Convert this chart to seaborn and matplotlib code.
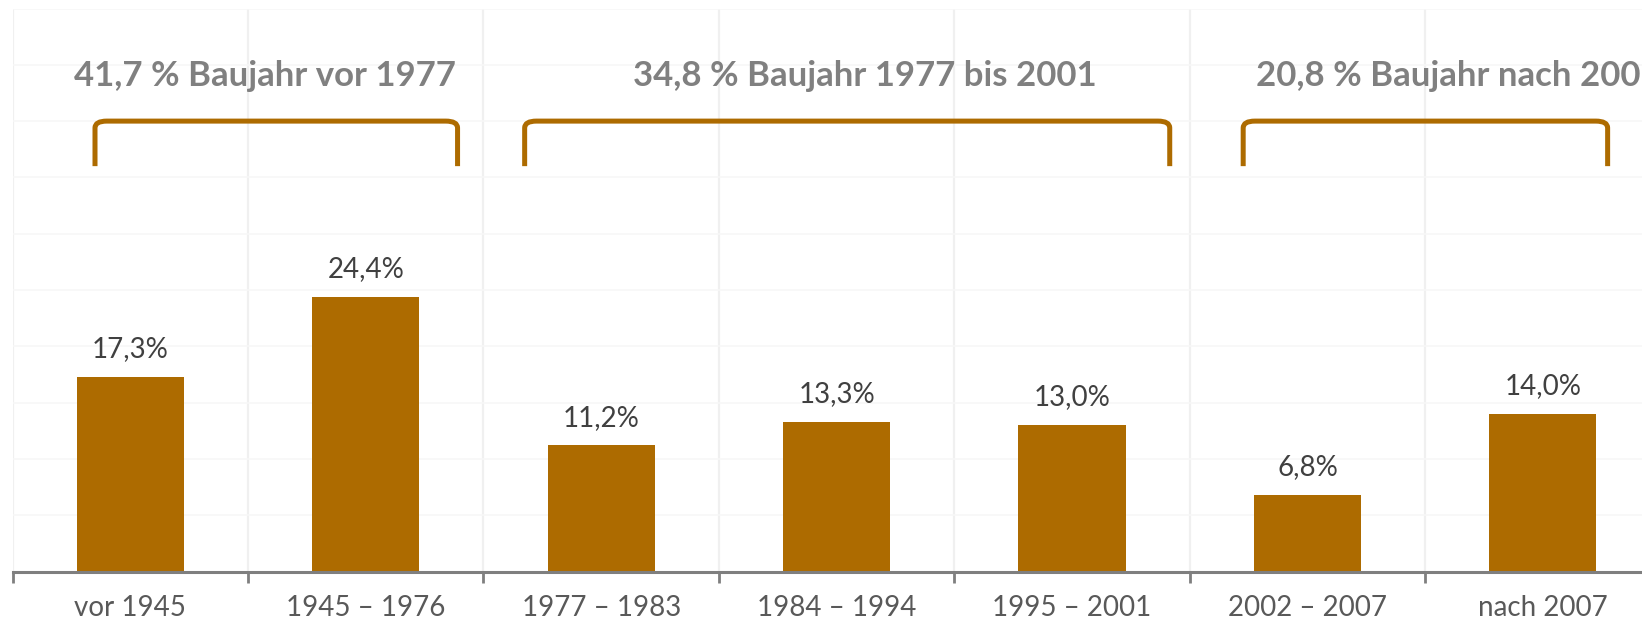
import matplotlib
matplotlib.use("Agg")
import matplotlib.pyplot as plt
from matplotlib.path import Path
from matplotlib.patches import PathPatch
import seaborn as sns
import pandas as pd
import numpy as np

categories = ["vor 1945", "1945 – 1976", "1977 – 1983", "1984 – 1994",
              "1995 – 2001", "2002 – 2007", "nach 2007"]
values = [17.3, 24.4, 11.2, 13.3, 13.0, 6.8, 14.0]
value_labels = ["17,3%", "24,4%", "11,2%", "13,3%", "13,0%", "6,8%", "14,0%"]

group_labels = ["41,7 % Baujahr vor 1977", "34,8 % Baujahr 1977 bis 2001",
                "20,8 % Baujahr nach 2001"]
group_spans = [(-0.15, 1.39), (1.675, 4.415), (4.727, 6.275)]
group_text_x = [0.57, 3.12, 4.78]
group_text_ha = ["center", "center", "left"]

BAR = "#AD6B00"
sns.set_theme(style="white")
plt.rcParams["font.family"] = ["Lato", "DejaVu Sans"]

fig = plt.figure(figsize=(16.42, 6.28), dpi=100)
ax = fig.add_axes([12.6 / 1642, 56.5 / 628, 1648 / 1642, 563 / 628])

df = pd.DataFrame({"cat": categories, "val": values})
sns.barplot(data=df, x="cat", y="val", color=BAR, saturation=1, width=0.455,
            ax=ax, edgecolor="none")

ax.set_xlim(-0.5, 6.5)
ax.set_ylim(0, 50)
ax.set_yticks(np.arange(0, 51, 5))
ax.set_yticklabels([])
ax.tick_params(axis="y", length=0)
ax.yaxis.grid(True, color="#F7F7F7", linewidth=1.2)
ax.set_xticks(np.arange(-0.5, 7, 1), minor=True)
ax.xaxis.grid(True, which="minor", color="#F0F0F0", linewidth=1.6)
ax.xaxis.grid(False, which="major")
ax.tick_params(axis="x", which="major", length=0, pad=17, labelsize=20,
               labelcolor="#595959")
ax.tick_params(axis="x", which="minor", length=8, width=2, color="#7F7F7F",
               direction="out", bottom=True)
ax.set_xlabel("")
ax.set_ylabel("")
ax.set_axisbelow(True)
for s in ["top", "right", "left"]:
    ax.spines[s].set_visible(False)
ax.spines["bottom"].set_color("#7F7F7F")
ax.spines["bottom"].set_linewidth(2.2)

for i, (v, lab) in enumerate(zip(values, value_labels)):
    ax.annotate(lab, (i, v), xytext=(0, 20), textcoords="offset points",
                ha="center", va="center", fontsize=20, color="#404040")

y0, y1 = 36.0, 40.0
for (x0, x1), lab, tx, ha in zip(group_spans, group_labels, group_text_x, group_text_ha):
    r = 0.05
    ry = 0.6
    verts = [(x0, y0), (x0, y1 - ry), (x0, y1), (x0 + r, y1),
             (x1 - r, y1), (x1, y1), (x1, y1 - ry), (x1, y0)]
    codes = [Path.MOVETO, Path.LINETO, Path.CURVE3, Path.CURVE3,
             Path.LINETO, Path.CURVE3, Path.CURVE3, Path.LINETO]
    ax.add_patch(PathPatch(Path(verts, codes), facecolor="none", edgecolor=BAR,
                           linewidth=3.6, capstyle="butt", joinstyle="round",
                           clip_on=False))
    ax.text(tx, 44.0, lab, ha=ha, va="center", fontsize=25, fontweight="bold",
            color="#808080")

fig.savefig("out.png", dpi=100)
